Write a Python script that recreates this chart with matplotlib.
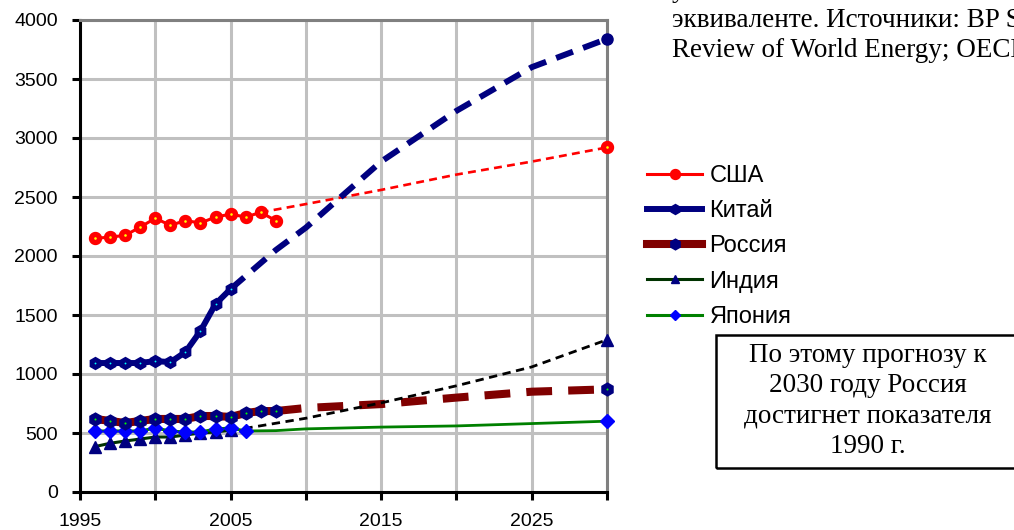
import matplotlib.pyplot as plt
from matplotlib.patches import Rectangle

# history (markers) and forecast (dashed) data, mln t oil equivalent
years_usa = list(range(1996, 2009))
usa = [2150, 2160, 2175, 2245, 2320, 2260, 2300, 2280, 2330, 2355, 2330, 2370, 2300]
years_china = list(range(1996, 2006))
china = [1093, 1093, 1093, 1093, 1110, 1100, 1186, 1364, 1593, 1720]
years_russia = list(range(1996, 2009))
russia = [619, 602, 585, 602, 619, 619, 619, 644, 644, 636, 669, 686, 686]
years_india = list(range(1996, 2006))
india = [385, 413, 432, 449, 466, 466, 483, 500, 508, 525]
years_japan = list(range(1996, 2007))
japan = [517, 517, 517, 517, 542, 517, 508, 508, 534, 542, 517]

fc_years_usa = [2007, 2010, 2015, 2020, 2025, 2030]
fc_usa = [2370, 2440, 2560, 2690, 2800, 2920]
fc_years_china = [2005, 2008, 2010, 2015, 2020, 2025, 2030]
fc_china = [1720, 2050, 2240, 2800, 3230, 3600, 3840]
fc_years_russia = [2008, 2010, 2015, 2020, 2025, 2030]
fc_russia = [686, 712, 745, 800, 850, 870]
fc_years_india = [2005, 2006, 2010, 2015, 2020, 2025, 2030]
fc_india = [525, 540, 625, 755, 900, 1060, 1290]
fc_years_japan = [2006, 2008, 2010, 2015, 2020, 2025, 2030]
fc_japan = [517, 520, 535, 550, 560, 580, 600]

labels = ['США', 'Китай', 'Россия', 'Индия', 'Япония']

fig = plt.figure(figsize=(10.14, 5.30), dpi=100)
ax = fig.add_axes([80 / 1014, 38 / 530, 527 / 1014, 472 / 530])

# marker styles
st_usa = dict(marker='o', ms=5.8, mfc='#ffff00', mec='#ff0000', mew=3.8)
st_china = dict(marker='h', ms=5.6, mfc='#00ffff', mec='#000080', mew=3.6)
st_russia = dict(marker='h', ms=6.0, mfc='#00ff00', mec='#000080', mew=3.8)
st_india = dict(marker='^', ms=8, mfc='#000080', mec='#000080')
st_japan = dict(marker='D', ms=7, mfc='#0000ff', mec='#0000ff')

# forecasts
ax.plot(fc_years_india, fc_india, color='black', lw=2.0, dashes=(3, 2), zorder=4)
ax.plot(fc_years_japan, fc_japan, color='#008000', lw=2.0, zorder=4)
ax.plot(fc_years_russia, fc_russia, color='#800000', lw=5.8, dashes=(3.2, 2.0), zorder=3)
ax.plot(fc_years_china, fc_china, color='#000080', lw=4.3, dashes=(3.0, 1.8), zorder=5)
ax.plot(fc_years_usa, fc_usa, color='#ff0000', lw=1.9, dashes=(3, 2), zorder=4)

# history
h_india, = ax.plot(years_india, india, color='#003300', lw=2.2, zorder=6, **st_india)
h_japan, = ax.plot(years_japan, japan, color='#008000', lw=2.2, zorder=7, **st_japan)
h_russia, = ax.plot(years_russia, russia, color='#800000', lw=5.8, zorder=8, **st_russia)
h_china, = ax.plot(years_china, china, color='#000080', lw=4.3, zorder=9, **st_china)
h_usa, = ax.plot(years_usa, usa, color='#ff0000', lw=2.2, zorder=10, **st_usa)

# end markers at 2030
ax.plot(fc_years_usa[-1], fc_usa[-1], zorder=11, clip_on=False, **st_usa)
ax.plot(fc_years_china[-1], fc_china[-1], marker='o', ms=8, color='#000080',
        zorder=11, clip_on=False)
ax.plot(fc_years_russia[-1], fc_russia[-1], zorder=11, clip_on=False, **st_russia)
ax.plot(fc_years_india[-1], fc_india[-1], zorder=11, clip_on=False, **st_india)
ax.plot(fc_years_japan[-1], fc_japan[-1], zorder=11, clip_on=False, **st_japan)

ax.set_xlim(1995, 2030)
ax.set_ylim(0, 4000)
ax.set_xticks(range(1995, 2031, 5))
ax.set_xticklabels(['1995', '', '2005', '', '2015', '', '2025', ''])
ax.set_yticks(range(0, 4001, 500))
ax.grid(True, color='#c0c0c0', lw=2.2)
ax.set_axisbelow(True)
for s in ['left', 'bottom']:
    ax.spines[s].set_color('black')
    ax.spines[s].set_linewidth(2.2)
for s in ['top', 'right']:
    ax.spines[s].set_color('#808080')
    ax.spines[s].set_linewidth(2.2)
ax.tick_params(axis='both', direction='out', length=6, width=2.2, color='black',
               labelsize=14)
ax.tick_params(axis='y', pad=10)
ax.tick_params(axis='x', pad=9)
for t in ax.get_xticklabels() + ax.get_yticklabels():
    t.set_fontfamily('Liberation Sans')

fig.legend([h_usa, h_china, h_russia, h_india, h_japan], labels,
           loc='upper left', bbox_to_anchor=(647 / 1014, 1 - 165 / 530),
           frameon=False, prop={'family': 'Liberation Sans', 'size': 17},
           handlelength=2.35, handletextpad=0.3, labelspacing=0.56,
           borderpad=0, borderaxespad=0, markerscale=0.75)

# caption text cut by the figure edge
cap = ['учтено все топливо в млн т в нефтяном',
       'эквиваленте. Источники: BP Statistical',
       'Review of World Energy; OECD/IEA']
for i, line in enumerate(cap):
    fig.text(672 / 1014, 1 - (-3 + 30 * i) / 530, line, family='Liberation Serif',
             fontsize=19.5, va='baseline', ha='left')

# note box
fig.patches.append(Rectangle((716 / 1014, 1 - 468 / 530), 310 / 1014, 133 / 530,
                             transform=fig.transFigure, fill=False, lw=1.8,
                             edgecolor='black'))
note = ['По этому прогнозу к', '2030 году Россия', 'достигнет показателя', '1990 г.']
for i, line in enumerate(note):
    fig.text(868 / 1014, 1 - (362 + 30.3 * i) / 530, line, family='Liberation Serif',
             fontsize=19.5, va='baseline', ha='center')

fig.savefig('out.png', dpi=100)
